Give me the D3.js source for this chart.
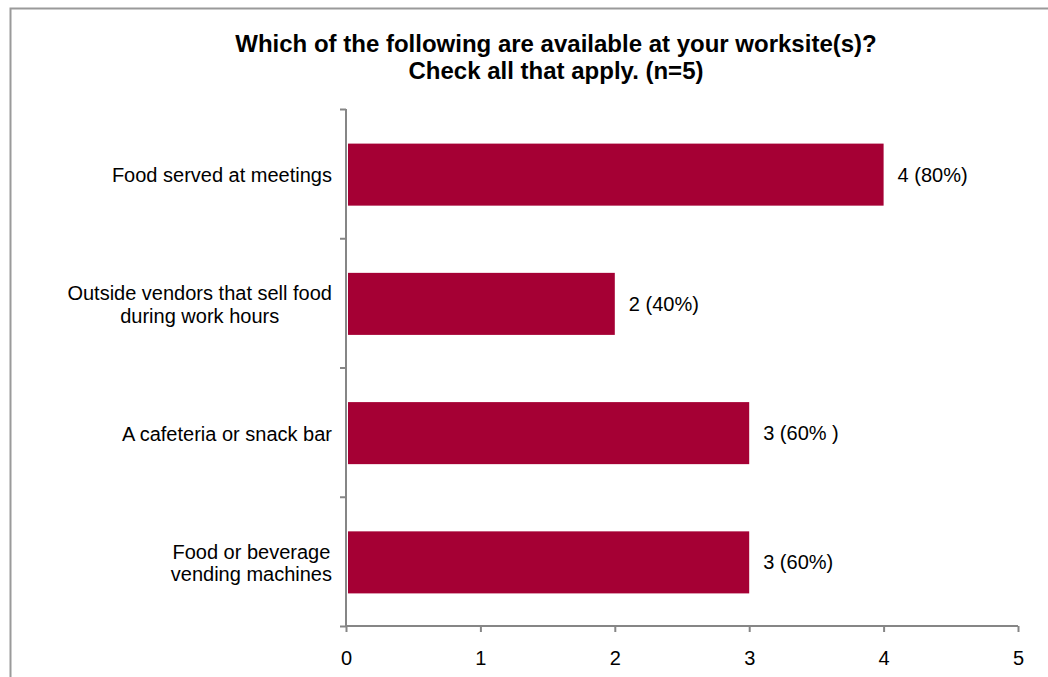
<!DOCTYPE html>
<html>
<head>
<meta charset="utf-8">
<script src="https://cdn.jsdelivr.net/npm/d3@7"></script>
<style>
  body { margin: 0; background: #fff; }
  text { font-family: "Liberation Sans", Arial, sans-serif; fill: #000; }
</style>
</head>
<body>
<svg id="chart" width="1048" height="677"></svg>
<script>
// Survey question and answers
const titleLines = [
  "Which of the following are available at your worksite(s)?",
  "Check all that apply. (n=5)"
];
const categories = [
  ["Food served at meetings"],
  ["Outside vendors that sell food", "during work hours"],
  ["A cafeteria or snack bar"],
  ["Food or beverage", "vending machines"]
];
const counts = [4, 2, 3, 3];
const valueLabels = ["4 (80%)", "2 (40%)", "3 (60% )", "3 (60%)"];
const xTicks = [0, 1, 2, 3, 4, 5];

const svg = d3.select("#chart");
const barColor = "#A50034";
const axisColor = "#868686";

// chart frame
svg.append("rect")
  .attr("x", 10.5).attr("y", 8.5)
  .attr("width", 1100).attr("height", 700)
  .attr("fill", "none").attr("stroke", "#9a9a9a").attr("stroke-width", 2);

// scales
const x = d3.scaleLinear().domain([0, 5]).range([346, 1018]);
const y = d3.scaleBand().domain(d3.range(categories.length))
  .range([109, 626]).paddingInner(0.52).paddingOuter(0.26);
const yEdge = d3.scaleLinear().domain([0, categories.length]).range([109, 626]);

// title
const title = svg.append("text")
  .attr("text-anchor", "middle")
  .style("font-weight", "bold").style("font-size", "24px");
titleLines.forEach((t, i) => {
  title.append("tspan").attr("x", 556).attr("y", 52 + i * 26.5).text(t);
});

// bars
svg.append("g").selectAll("rect")
  .data(counts)
  .join("rect")
  .attr("x", x(0) + 2)
  .attr("y", (d, i) => y(i) + 1)
  .attr("width", d => x(d) - x(0) - 2)
  .attr("height", y.bandwidth())
  .attr("fill", barColor);

// value labels
svg.append("g").selectAll("text")
  .data(counts)
  .join("text")
  .attr("x", d => x(d) + 14)
  .attr("y", (d, i) => y(i) + y.bandwidth() / 2 + 8)
  .style("font-size", "20px")
  .text((d, i) => valueLabels[i]);

// category axis (ticks between categories)
const yAxis = svg.append("g")
  .attr("transform", `translate(${x(0)},0)`)
  .call(d3.axisLeft(yEdge).ticks(categories.length).tickSize(6).tickFormat(""));
yAxis.select(".domain").attr("stroke", axisColor).attr("stroke-width", 2).attr("d", `M0,${yEdge(0)}V${yEdge(categories.length)}`);
yAxis.selectAll(".tick line").attr("stroke", axisColor).attr("stroke-width", 2);

// value axis
const xAxis = svg.append("g")
  .attr("transform", `translate(0,${yEdge(categories.length)})`)
  .call(d3.axisBottom(x).tickValues(xTicks).tickSize(6).tickPadding(19).tickFormat(d3.format("d")));
xAxis.select(".domain").attr("stroke", axisColor).attr("stroke-width", 2).attr("d", `M${x(0)},0H${x(5)}`);
xAxis.selectAll(".tick line").attr("stroke", axisColor).attr("stroke-width", 2);
xAxis.selectAll(".tick text")
  .style("font-size", "20px")
  .style("font-family", "'Liberation Sans', Arial, sans-serif")
  .attr("fill", "#000");

// category labels: right-aligned block, lines centered within it
const labelRight = 332;
const lineGap = 22.7;
categories.forEach((lines, i) => {
  const cy = y(i) + y.bandwidth() / 2;
  const g = svg.append("text").style("font-size", "20px").attr("text-anchor", "middle");
  const spans = lines.map((t, j) =>
    g.append("tspan")
      .attr("y", cy + 8.5 + (j - (lines.length - 1) / 2) * lineGap)
      .text(t));
  const widest = d3.max(spans, s => s.node().getComputedTextLength());
  spans.forEach(s => s.attr("x", labelRight - widest / 2));
});
</script>
</body>
</html>
